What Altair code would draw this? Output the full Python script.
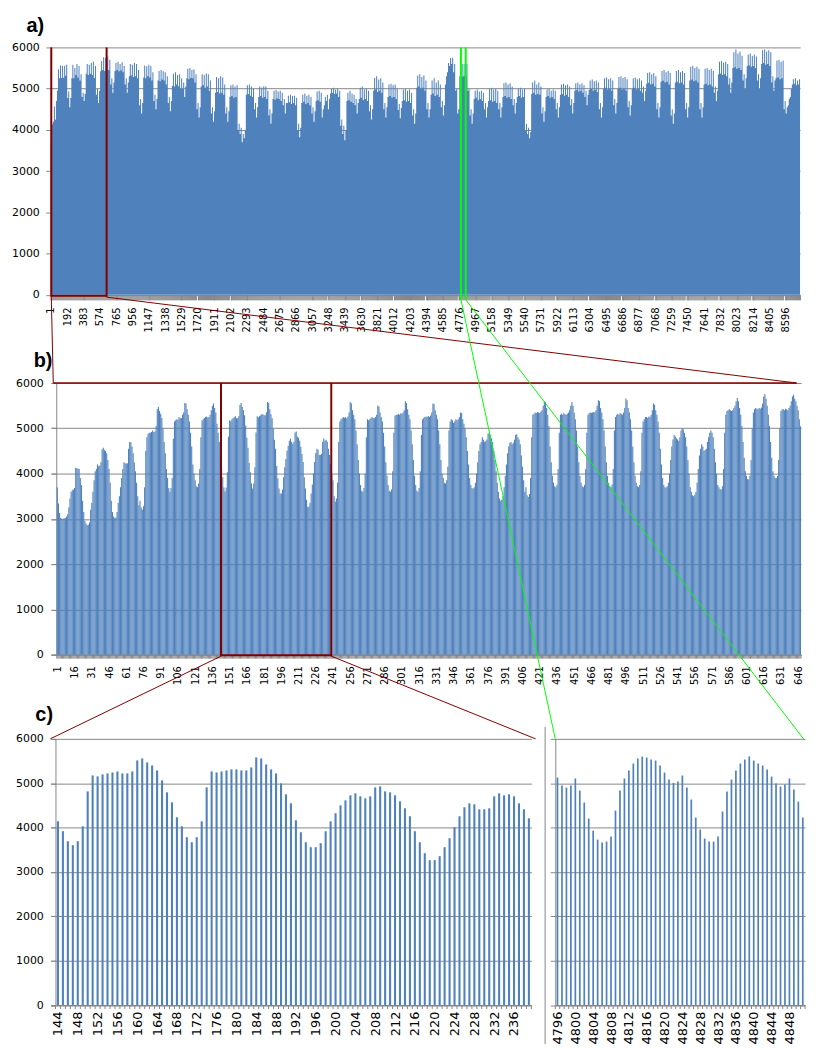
import altair as alt
import pandas as pd

# ---------------- data ----------------
# b) hourly load, hours 1..648, one row of 24 values per day
b_load_by_day = [
    [3690, 3340, 3130, 3020, 3000, 3000, 3010, 3020, 3050, 3100, 3250, 3450, 3600, 3630, 3650, 3680, 4130, 4120, 4110, 4100, 3900, 3750, 3400, 3150],
    [2950, 2900, 2860, 2870, 2920, 3200, 3350, 3600, 3850, 4050, 4100, 4200, 4160, 4180, 4250, 4540, 4570, 4520, 4500, 4450, 4300, 4100, 3800, 3400],
    [3150, 3050, 3020, 3030, 3150, 3350, 3500, 3700, 3900, 4100, 4250, 4230, 4220, 4230, 4550, 4700, 4690, 4600, 4450, 4250, 4050, 3800, 3500, 3300],
    [3400, 3250, 3200, 3280, 3700, 4500, 4800, 4880, 4900, 4900, 4920, 4950, 4920, 4930, 5050, 5420, 5470, 5380, 5320, 5230, 5000, 4700, 4450, 4100],
    [3900, 3680, 3600, 3680, 3900, 4770, 5150, 5180, 5200, 5190, 5250, 5220, 5230, 5300, 5350, 5560, 5550, 5420, 5300, 5150, 4900, 4600, 4200, 4000],
    [3850, 3720, 3700, 3780, 4100, 4800, 5170, 5200, 5230, 5250, 5260, 5240, 5250, 5300, 5400, 5500, 5550, 5450, 5350, 5100, 4900, 4700, 4450, 4142],
    [3918, 3693, 3603, 3693, 4030, 4816, 5176, 5154, 5199, 5221, 5243, 5266, 5221, 5221, 5266, 5513, 5558, 5468, 5401, 5288, 5064, 4794, 4569, 4232],
    [4030, 3783, 3670, 3783, 4142, 4906, 5266, 5243, 5266, 5288, 5311, 5311, 5288, 5288, 5356, 5581, 5558, 5423, 5311, 5221, 4996, 4749, 4547, 4165],
    [3895, 3670, 3558, 3558, 3648, 3918, 4142, 4322, 4502, 4614, 4727, 4772, 4704, 4659, 4704, 4906, 4929, 4816, 4794, 4727, 4592, 4434, 4255, 3918],
    [3670, 3423, 3266, 3266, 3356, 3558, 3760, 4007, 4255, 4457, 4547, 4524, 4412, 4412, 4434, 4704, 4772, 4727, 4749, 4704, 4547, 4412, 4210, 3980],
    [3850, 3500, 3380, 3450, 3800, 4700, 5150, 5200, 5220, 5250, 5230, 5250, 5220, 5260, 5350, 5580, 5550, 5400, 5300, 5200, 4950, 4650, 4300, 4000],
    [3750, 3620, 3600, 3680, 4000, 4800, 5200, 5180, 5200, 5220, 5250, 5230, 5220, 5250, 5300, 5500, 5480, 5350, 5250, 5150, 4900, 4600, 4250, 3950],
    [3750, 3620, 3600, 3650, 4050, 4900, 5280, 5300, 5300, 5320, 5300, 5330, 5320, 5350, 5400, 5600, 5560, 5420, 5300, 5200, 4950, 4650, 4300, 3950],
    [3750, 3620, 3600, 3680, 4050, 4850, 5200, 5230, 5250, 5260, 5250, 5270, 5250, 5280, 5350, 5550, 5530, 5400, 5300, 5200, 4950, 4650, 4300, 4000],
    [3900, 3800, 3780, 3850, 4150, 4950, 5150, 5200, 5180, 5120, 5150, 5200, 5180, 5200, 5250, 5350, 5340, 5200, 5100, 5000, 4800, 4500, 4200, 3900],
    [3750, 3680, 3670, 3700, 3800, 4000, 4250, 4500, 4650, 4700, 4800, 4750, 4700, 4720, 4750, 4880, 4900, 4850, 4780, 4700, 4500, 4300, 4050, 3800],
    [3600, 3450, 3400, 3420, 3500, 3700, 3950, 4200, 4450, 4600, 4680, 4700, 4650, 4680, 4750, 4850, 4870, 4800, 4750, 4650, 4400, 4150, 3850, 3600],
    [3700, 3520, 3480, 3550, 3900, 4800, 5300, 5320, 5350, 5340, 5360, 5350, 5340, 5370, 5400, 5500, 5600, 5580, 5450, 5300, 5050, 4600, 4250, 3950],
    [3800, 3720, 3700, 3750, 4100, 4900, 5300, 5320, 5300, 5330, 5310, 5300, 5320, 5350, 5400, 5500, 5580, 5500, 5350, 5200, 4950, 4600, 4250, 3950],
    [3800, 3720, 3700, 3750, 4100, 4900, 5300, 5330, 5350, 5340, 5350, 5360, 5350, 5400, 5500, 5620, 5600, 5450, 5350, 5200, 4950, 4600, 4250, 3950],
    [3800, 3720, 3700, 3760, 4100, 4950, 5250, 5300, 5320, 5300, 5330, 5320, 5300, 5350, 5450, 5660, 5620, 5450, 5350, 5200, 4950, 4600, 4250, 3950],
    [3800, 3720, 3700, 3750, 4050, 4900, 5150, 5200, 5250, 5250, 5230, 5260, 5250, 5300, 5400, 5550, 5520, 5400, 5300, 5150, 4900, 4550, 4200, 3900],
    [3750, 3700, 3690, 3720, 3800, 4000, 4300, 4600, 4750, 4850, 4820, 4780, 4750, 4720, 4800, 4950, 5000, 4980, 4900, 4800, 4600, 4300, 4000, 3700],
    [3600, 3520, 3500, 3530, 3600, 3800, 4100, 4400, 4550, 4650, 4600, 4500, 4520, 4550, 4700, 4800, 4900, 4950, 4900, 4800, 4550, 4250, 4000, 3750],
    [3700, 3660, 3650, 3720, 4100, 4900, 5300, 5380, 5400, 5420, 5400, 5380, 5400, 5450, 5500, 5600, 5670, 5600, 5450, 5300, 5050, 4700, 4350, 4050],
    [3950, 3880, 3870, 3950, 4300, 5000, 5350, 5420, 5450, 5430, 5420, 5450, 5430, 5460, 5550, 5700, 5760, 5650, 5500, 5300, 5050, 4700, 4350, 4050],
    [3950, 3900, 3900, 3950, 4300, 5000, 5380, 5420, 5420, 5400, 5430, 5420, 5400, 5450, 5500, 5600, 5700, 5740, 5650, 5600, 5500, 5400, 5200, 5044],
]

# c) right: hours 4796..4851
c_right_first_hour = 4796
c_right_load = [
    5128, 4947, 4902, 4947, 5105, 4835, 4564, 4203, 3932, 3729, 3662, 3684, 3797, 4383,
    4835, 5105, 5286, 5444, 5556, 5602, 5579, 5534, 5511, 5398, 5241, 5083, 5008, 5038,
    5173, 4902, 4632, 4226, 3955, 3752, 3684, 3684, 3797, 4361, 4812, 5083, 5286, 5444,
    5534, 5602, 5511, 5444, 5398, 5308, 5150, 4992, 4925, 4970, 5105, 4857, 4586, 4226,
]

# a) whole year: maxima of each half day (hours 1-12, 13-24) for days 27..364
# (days 0..26 are the same hours as panel b)
a_halfday_max_rest = [
    5450, 5780,
    5450, 5700, 5100, 5250, 4900, 5150, 5430, 5630, 5450, 5650, 5420, 5600, 5440, 5640,
    5400, 5550, 5100, 5250, 4900, 5150, 5300, 5600, 5320, 5580, 5280, 5620, 5300, 5600,
    5250, 5450, 4600, 4750, 4400, 4650, 5270, 5560, 5250, 5540, 5300, 5580, 5270, 5550,
    5200, 5400, 4700, 4850, 4500, 4750, 5200, 5430, 5180, 5450, 5220, 5420, 5200, 5400,
    5100, 5300, 4650, 4800, 4450, 4700, 5070, 5360, 5050, 5400, 5100, 5330, 5060, 5350,
    5000, 5250, 5000, 5150, 4800, 5050, 5250, 5480, 5230, 5500, 5260, 5450, 5250, 5470,
    5150, 5350, 4500, 4650, 4300, 4550, 5050, 5350, 5080, 5330, 5020, 5370, 5050, 5350,
    4950, 5200, 4400, 4550, 4200, 4450, 4900, 5280, 4920, 5250, 4880, 5300, 4900, 5270,
    4850, 5100, 4400, 4550, 4200, 4450, 4800, 5080, 4820, 5100, 4780, 5050, 4800, 5080,
    4000, 4150, 3900, 4050, 3700, 3900, 3800, 4000, 4850, 5080, 4870, 5100, 4830, 5050,
    4800, 5000, 4500, 4650, 4300, 4550, 4800, 5050, 4820, 5030, 4780, 5060, 4800, 5050,
    4750, 4950, 4350, 4500, 4150, 4400, 4750, 4950, 4730, 4970, 4760, 4930, 4750, 4950,
    4700, 4900, 4600, 4750, 4400, 4650, 4650, 4830, 4670, 4850, 4630, 4820, 4650, 4830,
    4600, 4780, 4000, 4150, 3820, 4050, 4650, 4850, 4680, 4880, 4630, 4830, 4650, 4850,
    4600, 4800, 4400, 4550, 4200, 4450, 4700, 4930, 4720, 4950, 4680, 4900, 4300, 4500,
    4600, 4800, 4700, 4850, 4500, 4750, 4880, 5000, 4900, 5020, 4870, 4980, 4880, 5000,
    4800, 4950, 4100, 4250, 3900, 4100, 3750, 4000, 4700, 4900, 4720, 4950, 4680, 4880,
    4650, 4850, 4600, 4750, 4400, 4650, 4750, 5020, 4780, 5050, 4720, 4980, 4750, 5000,
    4700, 4950, 4450, 4600, 4250, 4500, 4950, 5260, 4980, 5300, 4920, 5220, 4950, 5250,
    4900, 5150, 4500, 4650, 4300, 4550, 4800, 5100, 4820, 5120, 4780, 5080, 4800, 5100,
    4750, 5000, 4480, 4630, 4280, 4530, 4700, 4980, 4720, 5000, 4680, 4950, 4700, 4980,
    4650, 4900, 4350, 4500, 4150, 4400, 5020, 5320, 5050, 5350, 5000, 5280, 5020, 5320,
    4950, 5200, 4500, 4650, 4300, 4500, 4850, 5200, 4880, 5250, 4820, 5150, 4850, 5200,
    4800, 5100, 4550, 4700, 4350, 4600, 5100, 5300, 5400, 5620, 5550, 5740, 5600, 5750,
    5400, 5600, 4950, 5000, 4400, 4500, 5300, 5600, 5290, 5600, 5300, 5600, 5300, 5600,
    4950, 5000, 4350, 4500, 4150, 4400, 4750, 4950, 4780, 4980, 4720, 4930, 4750, 4950,
    4700, 4900, 4500, 4650, 4300, 4550, 4700, 5000, 4720, 5020, 4680, 4980, 4700, 5000,
    4650, 4950, 4500, 4650, 4300, 4550, 4800, 5130, 4820, 5150, 4780, 5100, 4800, 5130,
    4750, 5050, 4600, 4750, 4400, 4650, 4800, 5000, 4820, 5020, 4780, 4980, 4800, 5000,
    4000, 4150, 3900, 4050, 3800, 3950, 4870, 5150, 4900, 5200, 4850, 5100, 4870, 5150,
    4850, 5050, 4400, 4550, 4200, 4450, 4800, 4980, 4820, 5000, 4780, 4950, 4800, 4980,
    4750, 4950, 4500, 4650, 4300, 4550, 4850, 5100, 4870, 5120, 4830, 5080, 4850, 5100,
    4800, 5050, 4600, 4750, 4400, 4650, 4950, 5130, 4970, 5150, 4930, 5100, 4950, 5130,
    4900, 5080, 4800, 4950, 4600, 4850, 4970, 5200, 4990, 5220, 4950, 5180, 4970, 5200,
    4920, 5150, 4500, 4650, 4300, 4550, 5000, 5250, 5020, 5270, 4980, 5230, 5000, 5250,
    4950, 5200, 4600, 4750, 4400, 4650, 5000, 5280, 5020, 5300, 4980, 5260, 5000, 5280,
    4950, 5230, 4550, 4700, 4350, 4600, 5000, 5250, 5020, 5270, 4980, 5230, 5000, 5250,
    4950, 5200, 4900, 5050, 4700, 4950, 5120, 5380, 5140, 5400, 5100, 5350, 5120, 5380,
    5050, 5300, 4500, 4650, 4300, 4550, 5170, 5430, 5190, 5450, 5150, 5400, 5170, 5430,
    5100, 5380, 4350, 4500, 4150, 4400, 5150, 5430, 5170, 5450, 5130, 5400, 5150, 5430,
    5100, 5380, 4500, 4650, 4300, 4550, 5200, 5530, 5220, 5550, 5180, 5500, 5200, 5530,
    5150, 5480, 4500, 4650, 4300, 4550, 5100, 5480, 5120, 5500, 5080, 5450, 5100, 5480,
    5050, 5430, 4900, 5050, 4700, 4950, 5350, 5650, 5370, 5670, 5330, 5630, 5350, 5650,
    5300, 5600, 5100, 5250, 4900, 5150, 5500, 5880, 5520, 5950, 5480, 5850, 5500, 5900,
    5450, 5800, 5200, 5350, 5000, 5250, 5550, 5830, 5570, 5850, 5530, 5800, 5550, 5830,
    5500, 5780, 5200, 5350, 5000, 5250, 5600, 5930, 5620, 5950, 5580, 5900, 5600, 5930,
    5550, 5880, 5150, 5300, 4950, 5200, 5250, 5680, 5270, 5700, 5230, 5650, 5250, 5680,
    4500, 4700, 4400, 4550, 4600, 4750, 4800, 5000, 5100, 5230, 5120, 5250, 5080, 5200,
    5100, 5230,
]

a_label_hours = [1, 192, 383, 574, 765, 956, 1147, 1338, 1529, 1720, 1911, 2102, 2293,
                 2484, 2675, 2866, 3057, 3248, 3439, 3630, 3821, 4012, 4203, 4394, 4585,
                 4776, 4967, 5158, 5349, 5540, 5731, 5922, 6113, 6304, 6495, 6686, 6877,
                 7068, 7259, 7450, 7641, 7832, 8023, 8214, 8405, 8596]
b_label_hours = list(range(1, 647, 15))          # 1, 16, ..., 646
cl_label_hours = list(range(144, 237, 4))        # 144, 148, ..., 236
cr_label_hours = list(range(4796, 4849, 4))      # 4796, 4800, ..., 4848
y_tick_values = [0, 1000, 2000, 3000, 4000, 5000, 6000]
zoom_b_hours = (144, 239)        # red box in b -> c left
zoom_a_hours = (1, 648)          # red box in a -> b
zoom_green_hours = (4796, 4851)  # green box in a -> c right

# ---------------- tables ----------------
b_load = [v for day in b_load_by_day for v in day]
b_df = pd.DataFrame({"hour": list(range(1, len(b_load) + 1)), "load": b_load})
cl_df = b_df[(b_df.hour >= zoom_b_hours[0]) & (b_df.hour <= zoom_b_hours[1])]
cr_df = pd.DataFrame({"hour": list(range(c_right_first_hour, c_right_first_hour + len(c_right_load))),
                      "load": c_right_load})
a_half = []
for day in b_load_by_day:
    a_half += [max(day[:12]), max(day[12:])]
a_half += a_halfday_max_rest
N_HOURS = 12 * len(a_half)
a_df = pd.DataFrame({"hour": [0.5 + 12 * i for i in range(len(a_half))] + [N_HOURS + 0.5],
                     "load": a_half + [a_half[-1]]})

# ---------------- style / layout ----------------
BLUE = "#4F81BD"
GRID = "#868686"
RED = "#800000"
GREEN = "#00FF00"
FONT = "DejaVu Sans"

X0 = 50.5                                   # common plot left (page px)
A_TOP, A_W, A_H = 46.7, 753.0, 248.7
B_TOP, B_W, B_H = 383.7, 754.0, 273.0
C_TOP, CL_W, CR_W, C_H = 741.3, 483.0, 251.0, 267.5
CR_LEFT = 557.5
A_BOT, B_BOT = A_TOP + A_H, B_TOP + B_H
B_SLOT0, B_STEP = 56.5, 748.0 / 648          # panel b: first slot edge, slot width
CL_SLOT0, CL_STEP = 55.2, 4.982              # panel c left
CR_STEP = CR_W / 56


def a_px(h):
    return X0 + (h - 0.5) * A_W / N_HOURS


def b_edge(h):
    return B_SLOT0 + (h - 1) * B_STEP


ONE = pd.DataFrame({"k": [0]})


def seg(p, q, color, width, origin):
    ox, oy = origin
    return alt.Chart(ONE).mark_rule(color=color, strokeWidth=width).encode(
        x=alt.value(p[0] - ox), y=alt.value(p[1] - oy),
        x2=alt.value(q[0] - ox), y2=alt.value(q[1] - oy))


def panel_label(txt, p, origin):
    return alt.Chart(ONE).mark_text(
        text=txt, font="Liberation Sans", fontSize=20, fontWeight="bold",
        align="left", baseline="alphabetic", color="black").encode(
        x=alt.value(p[0] - origin[0]), y=alt.value(p[1] - origin[1]))


def y_enc(label_padding, offset=0, labels=True):
    return alt.Y("load:Q", scale=alt.Scale(domain=[0, 6000], nice=False),
                 axis=alt.Axis(values=y_tick_values, grid=True, gridColor=GRID, gridWidth=1,
                               domainColor=GRID, tickColor=GRID, tickSize=5, labels=labels,
                               labelFontSize=11, labelPadding=label_padding, offset=offset,
                               format="d", title=None))


def hourly_bars(df, domain, half_width, labels, label_size, label_padding, height, y):
    """Excel-like category bars on an hour scale, with tick marks on slot edges."""
    scale = alt.Scale(domain=domain, nice=False, zero=False)
    axis = alt.Axis(values=labels, format="d", labelAngle=270, labelFontSize=label_size,
                    labelPadding=label_padding, ticks=False, domainColor=GRID,
                    labelOverlap=False, labelFlush=False, labelBound=False,
                    grid=False, title=None)
    bars = alt.Chart(df).transform_calculate(
        x0="datum.hour - %f" % half_width, x1="datum.hour + %f" % half_width, base="0"
    ).mark_bar(color=BLUE).encode(
        x=alt.X("x0:Q", scale=scale, axis=axis),
        x2="x1:Q", y=y, y2="base:Q")
    edges = pd.DataFrame({"edge": [h - 0.5 for h in df.hour] + [df.hour.max() + 0.5]})
    ticks = alt.Chart(edges).mark_rule(color=GRID, strokeWidth=1).encode(
        x=alt.X("edge:Q", scale=scale, axis=axis), y=alt.value(height), y2=alt.value(height + 4))
    return [bars, ticks]


# ---------------- panel a ----------------
a_ticks = sorted(set([0.5 + 12 * i for i in range(len(a_half) + 1)] + a_label_hours))
a_area = alt.Chart(a_df).mark_area(interpolate="step-after", color=BLUE).encode(
    x=alt.X("hour:Q", scale=alt.Scale(domain=[0.5, N_HOURS + 0.5], nice=False, zero=False),
            axis=alt.Axis(values=a_ticks, labelExpr="(datum.value - 1) % 191 == 0 ? '' + datum.value : ''",
                          labelAngle=270, labelFontSize=10, labelPadding=7, tickSize=5,
                          tickColor=GRID, domainColor=GRID, labelOverlap=False, labelFlush=False,
                          labelBound=False, grid=False, title=None)),
    y=y_enc(6.5))
oa = (X0, A_TOP)
ra0, ra1 = a_px(zoom_a_hours[0] - 0.5) + 0.5, a_px(zoom_a_hours[1] + 0.5) + 0.4
ga0, ga1 = a_px(zoom_green_hours[0] - 0.5), a_px(zoom_green_hours[1] + 0.5)
panel_a = alt.layer(
    a_area,
    seg((ra0, A_TOP), (ra0, A_BOT + 2), RED, 2, oa),
    seg((ra1, A_TOP), (ra1, A_BOT + 2), RED, 2, oa),
    seg((ra0, A_BOT + 1), (ra1, A_BOT + 1), RED, 2, oa),
    seg((ga0, A_TOP), (ga0, A_BOT + 4.5), GREEN, 2, oa),
    seg((ga1, A_TOP), (ga1, A_BOT + 4.5), GREEN, 2, oa),
    panel_label("a)", (26, 31), oa),
).properties(width=A_W, height=A_H)

# ---------------- panel b ----------------
ob = (X0, B_TOP)
b_domain = [0.5 - (B_SLOT0 - X0) / B_STEP, 0.5 + (X0 + B_W - B_SLOT0) / B_STEP]
rb0, rb1 = b_edge(zoom_b_hours[0]), b_edge(zoom_b_hours[1] + 1)
panel_b = alt.layer(
    *hourly_bars(b_df, b_domain, 0.47, b_label_hours, 10, 11, B_H, y_enc(8, offset=-(B_SLOT0 - 0.5 - X0))),
    panel_label("b)", (33.3, 368.0), ob),
    seg((53.0, B_TOP), (800.0, B_TOP), RED, 1.5, ob),
    seg((ra0, A_BOT + 2), (53.0, B_TOP), RED, 1, ob),
    seg((ra1, A_BOT + 2), (800.0, B_TOP), RED, 1, ob),
    seg((rb0, B_TOP), (rb0, B_BOT + 1.5), RED, 2, ob),
    seg((rb1, B_TOP), (rb1, B_BOT + 1.5), RED, 2, ob),
    seg((rb0, B_BOT + 0.5), (rb1, B_BOT + 0.5), RED, 2, ob),
    seg((rb0, B_BOT + 1.5), (50.0, C_TOP), RED, 1, ob),
    seg((rb1, B_BOT + 1.5), (537.7, C_TOP), RED, 1, ob),
    seg((ga0, A_BOT + 4.5), (CR_LEFT, C_TOP), GREEN, 1, ob),
    seg((ga1, A_BOT + 4.5), (CR_LEFT + CR_W - 1.5, C_TOP), GREEN, 1, ob),
    seg((547.3, C_TOP - 12.0), (547.3, 1048.0), GRID, 1, ob),
).properties(width=B_W, height=B_H)

# ---------------- panel c ----------------
oc = (X0, C_TOP)
cl_first = zoom_b_hours[0] - 0.5
cl_domain = [cl_first - (CL_SLOT0 - X0) / CL_STEP, cl_first + (X0 + CL_W - CL_SLOT0) / CL_STEP]
panel_cl = alt.layer(
    *hourly_bars(cl_df, cl_domain, 0.21, cl_label_hours, 13, 6, C_H, y_enc(7.2, offset=-(CL_SLOT0 - X0))),
    panel_label("c)", (35.0, C_TOP - 17.6), oc),
).properties(width=CL_W, height=C_H)

cr_domain = [c_right_first_hour - 0.5, c_right_first_hour - 0.5 + CR_W / CR_STEP]
panel_cr = alt.layer(
    *hourly_bars(cr_df, cr_domain, 0.19, cr_label_hours, 13, 6, C_H, y_enc(4, labels=False)),
).properties(width=CR_W, height=C_H)

c_row = alt.hconcat(panel_cl, panel_cr, spacing=CR_LEFT - X0 - CL_W, bounds="flush")
lower = alt.vconcat(panel_b, c_row, spacing=C_TOP - B_BOT, bounds="flush")
chart = alt.vconcat(panel_a, lower, spacing=B_TOP - A_BOT, bounds="flush").properties(
    padding={"left": 3, "top": 5, "right": 5, "bottom": 2}, background="white"
).configure_view(strokeWidth=0).configure_axis(labelFont=FONT, labelColor="black")

chart.save("out.html", embed_options={"renderer": "svg", "actions": False})
